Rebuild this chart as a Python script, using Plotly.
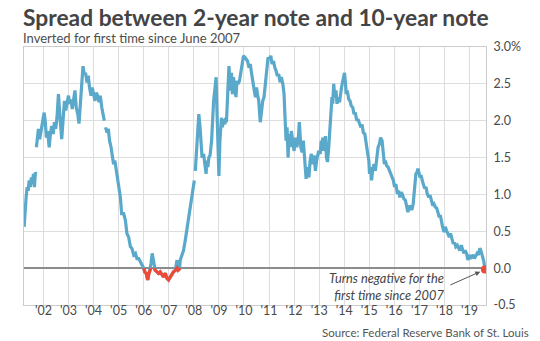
import plotly.graph_objects as go
from datetime import datetime, timedelta

# decimal years (None = data gap) and 10y-2y spread in percentage points
years = [
 2001.23,2001.27,2001.31,2001.35,2001.39,2001.43,2001.48,2001.52,2001.56,2001.60,2001.64,2001.68,2001.70,2001.71,
 2001.72,2001.76,2001.80,2001.85,2001.91,2001.96,2002.03,2002.07,2002.12,2002.17,2002.23,2002.28,2002.33,2002.39,
 2002.44,2002.49,2002.54,2002.60,2002.64,2002.68,2002.73,2002.78,2002.84,2002.89,2002.94,2003.00,2003.05,2003.10,
 2003.15,2003.21,2003.26,2003.31,2003.37,2003.42,2003.47,2003.52,2003.58,2003.63,2003.68,2003.74,2003.79,2003.84,
 2003.90,2003.95,2004.00,2004.06,2004.11,2004.17,2004.22,2004.27,2004.33,2004.38,2004.43,2004.455,2004.48,2004.54,
 2004.59,2004.64,2004.70,2004.75,2004.80,2004.85,2004.91,2004.96,2005.01,2005.07,2005.12,
 2005.20,2005.27,2005.33,2005.40,2005.47,2005.53,2005.60,2005.67,2005.73,2005.80,2005.86,2005.93,2006.00,2006.04,
 2006.10,2006.16,2006.21,2006.26,2006.29,2006.34,2006.39,2006.42,2006.46,2006.53,2006.59,2006.66,2006.73,2006.79,
 2006.86,2006.93,2006.99,2007.06,2007.13,2007.19,2007.26,2007.30,2007.33,2007.37,2007.43,2007.46,2007.53,2007.59,
 2007.66,2007.70,2007.75,2007.79,2007.83,2007.88,2007.92,2007.96,2008.02,2008.04,2008.06,2008.10,2008.12,2008.16,
 2008.20,2008.25,2008.29,2008.33,2008.39,2008.44,2008.49,2008.52,2008.56,2008.60,2008.65,2008.71,2008.73,2008.79,
 2008.85,2008.89,2008.92,2008.96,2009.00,
 2009.04,2009.08,2009.10,2009.14,2009.18,2009.24,2009.26,2009.30,2009.34,2009.40,2009.44,2009.48,2009.50,2009.54,
 2009.58,2009.64,2009.68,2009.72,2009.77,2009.82,2009.88,2009.93,2009.98,2010.04,2010.09,2010.14,2010.20,2010.25,
 2010.30,2010.35,2010.41,2010.46,2010.50,2010.54,2010.59,2010.65,2010.70,2010.75,2010.80,2010.86,2010.91,2010.96,
 2011.02,2011.07,2011.12,2011.18,2011.23,2011.28,2011.33,2011.39,2011.44,2011.49,2011.55,2011.60,2011.63,2011.68,
 2011.72,2011.76,2011.80,2011.84,2011.89,2011.95,2012.00,2012.05,2012.11,2012.16,2012.21,2012.27,2012.32,2012.37,
 2012.43,2012.48,2012.53,2012.59,2012.64,2012.69,2012.75,2012.80,2012.85,2012.90,
 2012.98,2013.04,2013.08,2013.12,2013.14,2013.18,2013.22,2013.25,2013.29,2013.33,2013.38,2013.42,2013.46,2013.49,
 2013.51,2013.54,2013.58,2013.62,2013.67,2013.71,2013.75,2013.81,2013.85,2013.89,2013.93,2013.97,2014.01,2014.05,
 2014.08,2014.12,2014.18,2014.23,2014.28,2014.34,2014.39,2014.44,2014.50,2014.55,2014.60,2014.66,2014.71,2014.76,
 2014.82,2014.87,2014.92,2014.98,2015.01,2015.05,2015.09,2015.13,2015.19,2015.24,2015.29,2015.35,2015.40,2015.45,
 2015.51,2015.56,2015.60,2015.64,2015.69,2015.75,2015.80,2015.85,2015.90,2015.96,2016.01,2016.06,2016.12,2016.17,
 2016.22,2016.28,2016.33,2016.38,2016.44,2016.49,2016.54,2016.60,2016.65,2016.70,2016.75,2016.81,
 2016.86,2016.90,2016.94,2016.98,2017.02,2017.06,2017.10,2017.15,2017.21,2017.26,2017.31,2017.37,2017.42,2017.47,
 2017.53,2017.58,2017.63,2017.69,2017.74,2017.79,2017.83,2017.87,2017.92,2017.98,2018.03,2018.08,2018.14,2018.19,
 2018.24,2018.29,2018.35,2018.40,2018.45,2018.51,2018.56,2018.61,2018.67,2018.72,2018.77,2018.82,2018.88,2018.93,
 2018.98,2019.04,2019.09,2019.14,2019.19,2019.25,2019.30,2019.35,2019.41,2019.45,2019.49,2019.53,2019.57,2019.61,
]
spread = [
 0.56,0.83,0.96,1.10,1.05,1.19,1.10,1.23,1.14,1.28,1.10,1.30,1.28,None,
 1.64,1.82,1.89,1.75,1.86,1.98,2.11,2.00,1.77,1.86,1.64,1.82,1.93,1.82,
 1.98,1.89,2.04,2.36,2.09,1.96,1.75,2.04,2.27,2.14,2.23,2.34,2.23,2.29,
 2.16,2.32,2.41,2.18,2.09,1.96,2.18,2.45,2.74,2.63,2.65,2.52,2.61,2.45,
 2.34,2.45,2.36,2.27,2.38,2.34,2.25,2.34,2.18,2.11,2.00,None,1.91,1.84,
 1.89,1.73,1.64,1.53,1.41,1.46,1.32,1.19,1.14,0.96,0.74,
 0.74,0.65,0.47,0.42,0.29,0.27,0.18,0.20,0.13,0.13,0.09,0.06,0.00,-0.05,
 -0.07,-0.16,-0.07,-0.03,0.06,0.20,0.11,0.02,-0.03,-0.05,-0.07,-0.05,-0.09,-0.12,
 -0.07,-0.14,-0.16,-0.12,-0.09,-0.05,-0.03,0.06,0.11,-0.03,-0.01,0.11,0.20,0.24,
 0.38,0.47,0.56,0.63,0.74,0.87,0.96,1.01,1.19,None,1.32,1.55,1.73,1.91,
 2.09,1.91,1.73,1.50,1.55,1.41,1.28,1.46,1.37,1.50,1.53,1.73,1.91,2.27,
 2.45,2.59,2.18,1.73,1.25,
 1.73,2.00,2.04,1.91,2.02,1.95,2.04,1.98,2.23,2.74,2.54,2.41,2.65,2.36,
 2.59,2.41,2.32,2.54,2.50,2.54,2.65,2.77,2.88,2.86,2.83,2.81,2.72,2.77,
 2.65,2.52,2.41,2.32,2.45,2.36,2.27,1.98,2.18,2.27,2.32,2.54,2.72,2.86,
 2.83,2.88,2.77,2.81,2.72,2.68,2.61,2.63,2.52,2.59,2.50,2.36,2.11,1.73,
 1.91,1.50,1.82,1.64,1.86,1.73,1.59,1.77,1.64,1.73,1.98,1.64,1.57,1.73,
 1.41,1.21,1.37,1.23,1.46,1.55,1.41,1.53,1.32,1.46,
 1.59,1.55,1.73,1.64,1.77,1.59,1.71,1.79,1.50,1.44,1.64,1.91,2.00,2.18,
 2.32,2.23,2.50,2.32,2.41,2.23,2.32,2.25,2.38,2.45,2.52,2.59,2.65,2.50,
 2.36,2.41,2.29,2.27,2.20,2.18,2.09,2.11,2.00,2.02,1.95,1.91,1.95,1.84,
 1.82,1.73,1.59,1.46,1.28,1.37,1.19,1.32,1.41,1.32,1.50,1.64,1.68,1.77,
 1.73,1.59,1.41,1.46,1.39,1.37,1.32,1.30,1.23,1.19,1.10,1.14,1.01,1.05,
 0.96,1.03,0.99,0.94,0.92,0.83,0.76,0.85,0.81,0.79,0.87,1.05,
 1.28,1.30,1.35,1.30,1.23,1.26,1.19,1.14,1.08,1.10,1.01,0.96,0.99,0.92,
 0.85,0.87,0.83,0.81,0.74,0.69,0.72,0.63,0.56,0.49,0.56,0.51,0.45,0.42,
 0.47,0.38,0.33,0.35,0.29,0.31,0.27,0.24,0.31,0.24,0.20,0.24,0.20,0.11,
 0.18,0.13,0.16,0.18,0.13,0.16,0.20,0.18,0.27,0.24,0.20,0.16,0.09,-0.02,
]
tick_years = list(range(2002, 2020))
tick_labels = ["'%02d" % (y % 100) for y in tick_years]
y_ticks = [-0.5, 0.0, 0.5, 1.0, 1.5, 2.0, 2.5, 3.0]
y_labels = ["-0.5", "0.0", "0.5", "1.0", "1.5", "2.0", "2.5", "3.0%"]

def to_date(y):
    yi = int(y)
    return datetime(yi, 1, 1) + timedelta(days=(y - yi) * 365.25)

dates = [to_date(y) for y in years]

# red overlay where curve dips below zero (clipped to zero at neighbours)
red = []
for i, v in enumerate(spread):
    neg = lambda j: 0 <= j < len(spread) and spread[j] is not None and spread[j] < 0
    if v is not None and (neg(i) or neg(i - 1) or neg(i + 1)):
        red.append(min(v, 0))
    else:
        red.append(None)

BLUE = "#5aa9cb"
RED = "#f04a36"
GRID = "#dedede"
TXT = "#4a4a4a"
FONT = "Lato"

# plot area in pixels
L, R, T, B = 24, 486, 47, 305
PW, PH = R - L, B - T
px = lambda x: (x - L) / PW
py = lambda y: (B - y) / PH

fig = go.Figure()
fig.add_trace(go.Scatter(x=dates, y=spread, mode="lines",
                         line=dict(color=BLUE, width=3.2), connectgaps=False,
                         hoverinfo="skip"))
fig.add_trace(go.Scatter(x=dates, y=red, mode="lines",
                         line=dict(color=RED, width=3.2), connectgaps=False,
                         hoverinfo="skip"))
fig.add_trace(go.Scatter(x=[dates[-1]], y=[spread[-1]], mode="markers",
                         marker=dict(color=RED, size=8), hoverinfo="skip"))

fig.update_layout(
    width=540, height=341,
    margin=dict(l=L, r=540 - R, t=T, b=341 - B, autoexpand=False),
    paper_bgcolor="white", plot_bgcolor="white",
    showlegend=False,
    font=dict(family=FONT, color=TXT, size=12),
    xaxis=dict(
        type="date", automargin=False,
        range=[to_date(2001.225), to_date(2019.655)],
        tickvals=[datetime(y, 1, 1) for y in tick_years],
        ticktext=tick_labels,
        showgrid=True, gridcolor=GRID, gridwidth=1,
        showline=True, mirror=True, linecolor="#cccccc", linewidth=1,
        ticks="", tickfont=dict(family=FONT, size=12.5, color=TXT),
        ticklabelstandoff=-6,
        zeroline=False,
    ),
    yaxis=dict(
        range=[-0.5, 3.0], side="right", automargin=False,
        tickvals=y_ticks, ticktext=y_labels,
        showgrid=True, gridcolor=GRID, gridwidth=1,
        showline=True, mirror=True, linecolor="#cccccc", linewidth=1,
        zeroline=True, zerolinecolor="#8c8c8c", zerolinewidth=2,
        ticks="", tickfont=dict(family=FONT, size=12.5, color=TXT),
        ticklabelstandoff=4,
    ),
)

annotations = [
    dict(text="<b>Spread between 2-year note and 10-year note</b>",
         xref="paper", yref="paper", x=px(21), y=py(17),
         xanchor="left", yanchor="middle", showarrow=False,
         font=dict(family=FONT, size=22.8, color="#444444")),
    dict(text="Inverted for first time since June 2007",
         xref="paper", yref="paper", x=px(21), y=py(38),
         xanchor="left", yanchor="middle", showarrow=False,
         font=dict(family=FONT, size=13, color="#4d4d4d")),
    dict(text="Source: Federal Reserve Bank of St. Louis",
         xref="paper", yref="paper", x=px(531), y=py(332),
         xanchor="right", yanchor="middle", showarrow=False,
         font=dict(family=FONT, size=11.5, color="#555555")),
    dict(text="<i>Turns negative for the<br>first time since 2007</i>",
         xref="paper", yref="paper", x=px(446), y=py(286),
         xanchor="right", yanchor="middle", align="right", showarrow=False,
         font=dict(family=FONT, size=12.8, color="#444444")),
    dict(text="", x=dates[-1], y=spread[-1], xref="x", yref="y",
         showarrow=True, ax=-36, ay=16, axref="pixel", ayref="pixel",
         arrowhead=2, arrowsize=1, arrowwidth=1, arrowcolor="#555555", standoff=5),
]
fig.update_layout(annotations=annotations)

fig.write_html("out.html")
